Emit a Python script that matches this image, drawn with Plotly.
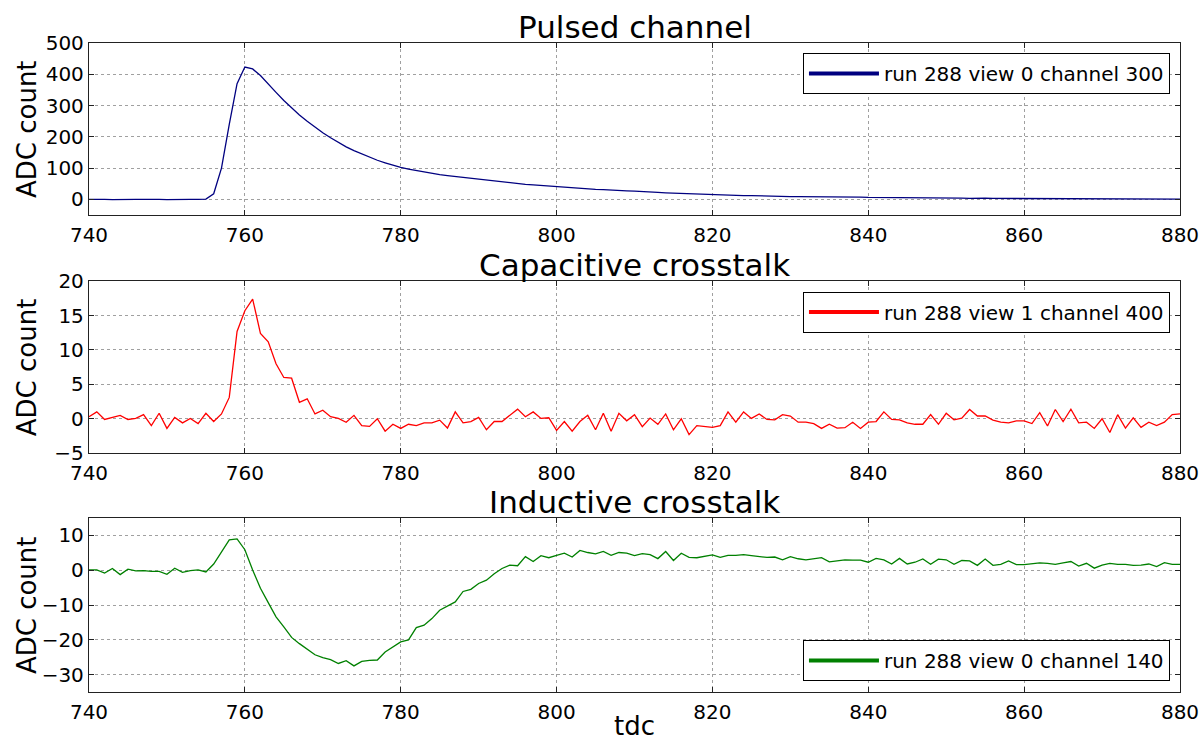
import plotly.graph_objects as go

# Sample axis (one ADC sample per tdc tick)
tdc = list(range(740, 881))

# Pulsed channel: run 288, view 0, channel 300
pulsed = [
    0, 1, 0, -1, 0, 1, 0, 0, 1, 0, -1, 0, 1, 0, 0, 1,
    18, 100, 240, 370,
    423, 417, 396, 368, 342, 316, 292, 270, 250, 231,
    213, 197, 182, 168, 156, 145, 135, 125, 117, 109,
    102, 97, 92, 87, 83, 79, 76, 73, 70, 67,
    64, 61, 58, 56, 53, 51, 48, 46, 44, 42,
    40, 38, 37, 35, 33, 32, 31, 29, 28, 27,
    26, 24, 23, 22, 21, 20, 18, 17, 16, 15,
    14, 14, 13, 13, 12, 12, 11, 11, 10, 10,
    9, 9, 9, 8, 8, 8, 7, 7, 7, 7,
    6, 6, 6, 5, 6, 5, 5, 5, 4, 5,
    4, 4, 4, 3, 4, 4, 3, 3, 3, 3,
    3, 2, 3, 2, 2, 3, 2, 2, 2, 2,
    2, 2, 1, 2, 2, 1, 2, 1, 1, 2,
    1,
]

# Capacitive crosstalk: run 288, view 1, channel 400
capacitive = [
    0.3, 1.0, -0.1, 0.2, 0.5, -0.1, 0.05, 0.6, -1.0, 0.8,
    -1.4, 0.2, -0.6, 0.05, -0.7, 0.8, -0.4, 0.7,
    3.1, 12.7, 15.7, 17.4, 12.4, 11.2, 8.0, 6.0, 5.9, 2.4,
    2.9, 0.7, 1.25, 0.3, 0.05, -0.5, 0.5, -1.0, -1.1, 0.0,
    -1.8, -0.8, -1.4, -0.8, -1.0, -0.6, -0.6, -0.2, -1.35, 1.0,
    -0.6, -0.4, 0.2, -1.6, -0.4, -0.4, 0.5, 1.4, 0.3, 1.0,
    0.05, 0.15, -1.7, -0.4, -1.8, -0.4, 0.5, -1.6, 0.8, -1.8,
    0.8, -0.3, 0.6, -1.15, 0.1, -0.8, 0.7, -1.6, 0.0, -2.3,
    -1.0, -1.1, -1.25, -1.0, 1.0, -0.5, 1.0, 0.05, 0.7, -0.1,
    -0.15, 0.6, 0.4, -0.5, -0.5, -0.7, -1.4, -0.8, -1.35, -1.3,
    -0.5, -1.4, -0.5, -0.4, 1.0, -0.1, -0.15, -0.6, -0.8, -0.8,
    0.6, -0.8, 0.8, -0.15, 0.1, 1.35, 0.4, 0.4, -0.2, -0.5,
    -0.6, -0.3, -0.3, -0.7, 0.9, -1.05, 1.35, -0.4, 1.4, -0.6,
    -0.5, -1.4, 0.0, -2.0, 0.6, -1.35, 0.15, -1.25, -0.5, -1.0,
    -0.5, 0.6, 0.7,
]

# Inductive crosstalk: run 288, view 0, channel 140
inductive = [
    0.1, 0.1, -0.8, 0.5, -1.25, 0.3, -0.2, -0.1, -0.3, -0.3,
    -1.15, 0.6, -0.6, -0.1, 0.1, -0.5, 1.8, 5.1, 8.75, 9.0, 5.9,
    0.1, -5.2, -9.3, -13.4, -16.25, -19.3, -21.1, -22.8, -24.3, -25.1,
    -25.7, -26.8, -26.0, -27.5, -26.2, -25.9, -25.8, -23.5, -22.0, -20.6,
    -20.0, -16.5, -15.8, -13.9, -11.5, -10.4, -9.1, -6.1, -5.5, -3.8,
    -2.85, -1.0, 0.5, 1.45, 1.3, 3.9, 2.5, 4.2, 3.6, 4.3,
    4.9, 3.8, 5.7, 5.1, 4.7, 5.4, 4.3, 5.1, 4.9, 4.2,
    4.8, 4.5, 3.35, 5.4, 2.8, 4.9, 3.7, 3.6, 3.9, 4.4,
    3.7, 4.3, 4.3, 4.5, 4.2, 3.9, 3.7, 3.8, 3.0, 3.9,
    3.3, 3.0, 3.3, 3.6, 2.4, 2.7, 3.0, 2.9, 2.9, 2.3,
    3.4, 3.0, 1.8, 3.4, 1.8, 2.3, 3.25, 1.7, 3.2, 3.0,
    1.7, 2.8, 2.7, 1.4, 3.2, 1.4, 1.7, 2.7, 1.6, 1.6,
    1.9, 2.1, 2.0, 1.7, 2.1, 2.5, 1.2, 2.0, 0.6, 1.5,
    2.0, 1.7, 1.7, 1.4, 1.5, 1.8, 1.05, 2.2, 1.7, 1.7,
]

panel_titles = ["Pulsed channel", "Capacitive crosstalk", "Inductive crosstalk"]
series_names = [
    "run 288 view 0 channel 300",
    "run 288 view 1 channel 400",
    "run 288 view 0 channel 140",
]
series_values = [pulsed, capacitive, inductive]
series_colors = ["#000080", "#ff0000", "#008000"]

y_ranges = [[-50, 500], [-5, 20], [-35, 15]]
y_ticks = [[0, 100, 200, 300, 400, 500], [-5, 0, 5, 10, 15, 20], [-30, -20, -10, 0, 10]]
x_ticks = [740, 760, 780, 800, 820, 840, 860, 880]

domains = [[0.735, 1.0], [0.368, 0.633], [0.0, 0.268]]

FONT = "DejaVu Sans"

fig = go.Figure()

legend_specs = [
    dict(x=0.9908, y=0.9846, xanchor="right", yanchor="top"),
    dict(x=0.9908, y=0.617, xanchor="right", yanchor="top"),
    dict(x=0.9908, y=0.017, xanchor="right", yanchor="bottom"),
]

for i in range(3):
    sfx = "" if i == 0 else str(i + 1)
    leg = "legend" if i == 0 else f"legend{i + 1}"
    # data line
    fig.add_trace(go.Scatter(
        x=tdc, y=series_values[i], mode="lines",
        line=dict(color=series_colors[i], width=1.3),
        xaxis="x" + sfx, yaxis="y" + sfx, showlegend=False,
        hoverinfo="x+y",
    ))
    # legend entry with a heavier line sample
    fig.add_trace(go.Scatter(
        x=[None], y=[None], mode="lines",
        line=dict(color=series_colors[i], width=4),
        name=series_names[i], xaxis="x" + sfx, yaxis="y" + sfx,
        legend=leg, showlegend=True,
    ))

axis_common = dict(
    showline=True, linecolor="#222222", linewidth=1.3, mirror="ticks",
    ticks="inside", ticklen=5, tickwidth=1, tickcolor="#222222",
    showgrid=True, gridcolor="#a0a0a0", griddash="dot", gridwidth=1,
    zeroline=False, automargin=False,
    tickfont=dict(family=FONT, size=20, color="#000000"),
)

layout = dict(
    width=1202, height=742,
    margin=dict(l=89, r=22, t=43, b=50),
    paper_bgcolor="white", plot_bgcolor="white",
    font=dict(family=FONT, color="#000000"),
    showlegend=True,
)

for i in range(3):
    sfx = "" if i == 0 else str(i + 1)
    layout["xaxis" + sfx] = dict(
        axis_common, domain=[0, 1], range=[740, 880],
        tickvals=x_ticks, anchor="y" + sfx, ticklabelstandoff=2,
    )
    layout["yaxis" + sfx] = dict(
        axis_common, domain=domains[i], range=y_ranges[i],
        tickvals=y_ticks[i], anchor="x" + sfx,
    )
    legkey = "legend" if i == 0 else f"legend{i + 1}"
    layout[legkey] = dict(
        legend_specs[i], bgcolor="white", bordercolor="#000000", borderwidth=1,
        font=dict(family=FONT, size=20, color="#000000"), itemwidth=70,
    )

fig.update_layout(**layout)

annotations = []
for i in range(3):
    annotations.append(dict(
        text=panel_titles[i], xref="paper", yref="paper",
        x=0.5, y=domains[i][1], xanchor="center", yanchor="bottom", yshift=-3,
        borderpad=0,
        showarrow=False, font=dict(family=FONT, size=31, color="#000000"),
    ))
    annotations.append(dict(
        text="ADC count", xref="paper", yref="paper",
        x=-0.0568, y=(domains[i][0] + domains[i][1]) / 2,
        xanchor="center", yanchor="middle", textangle=-90, borderpad=0,
        showarrow=False, font=dict(family=FONT, size=26, color="#000000"),
    ))
annotations.append(dict(
    text="tdc", xref="paper", yref="paper", x=0.5, y=-50 / 649,
    xanchor="center", yanchor="bottom", showarrow=False, borderpad=0,
    font=dict(family=FONT, size=26, color="#000000"),
))
fig.update_layout(annotations=annotations)

fig.write_html("out.html")
